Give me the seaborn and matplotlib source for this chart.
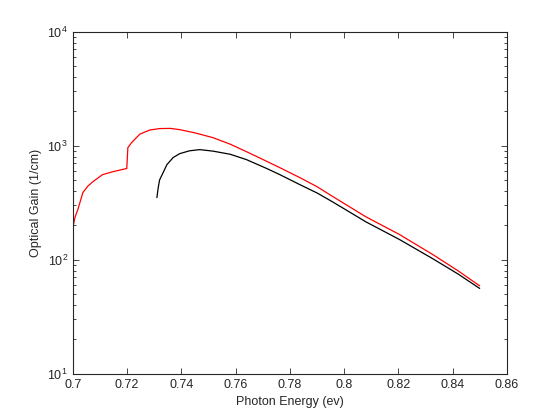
import numpy as np
import pandas as pd
import matplotlib
matplotlib.use("Agg")
import matplotlib.pyplot as plt
import seaborn as sns
from matplotlib.ticker import LogLocator, NullFormatter

# red curve (photon energy in eV, gain in 1/cm)
red_energy = [0.7000, 0.7008, 0.7019, 0.7037, 0.7055, 0.7074, 0.7110, 0.7147, 0.7199,
              0.7203, 0.7217, 0.7247, 0.7284, 0.7320, 0.7360, 0.7394, 0.7452, 0.7516,
              0.7580, 0.7640, 0.7715, 0.7763, 0.7837, 0.7900, 0.7959, 0.8080, 0.8205,
              0.8327, 0.8420, 0.8500]
red_gain = [190, 235, 277, 387, 440, 483, 557, 590, 630,
            960, 1063, 1260, 1370, 1410, 1415, 1380, 1290, 1175,
            1030, 885, 728, 641, 524, 437, 357, 238, 166,
            111, 80, 59]

# black curve
black_energy = [0.7310, 0.7315, 0.7320, 0.7347, 0.7370, 0.7394, 0.7430, 0.7468, 0.7516,
                0.7580, 0.7640, 0.7715, 0.7763, 0.7837, 0.7900, 0.7959, 0.8080, 0.8205,
                0.8327, 0.8420, 0.8500]
black_gain = [350, 430, 500, 681, 786, 850, 900, 922, 895,
              840, 754, 630, 557, 455, 385, 320, 215, 150,
              102, 75, 56]

sns.set_style("ticks")
plt.rcParams["font.family"] = ["Liberation Sans", "DejaVu Sans"]

fig = plt.figure(figsize=(5.6, 4.2), dpi=100)
ax = fig.add_axes([0.13, 0.11, 0.775, 0.815])

red = pd.DataFrame({"energy": red_energy, "gain": red_gain})
black = pd.DataFrame({"energy": black_energy, "gain": black_gain})

sns.lineplot(data=red, x="energy", y="gain", color="red", lw=0.9, estimator=None, ax=ax)
sns.lineplot(data=black, x="energy", y="gain", color="black", lw=0.9, estimator=None, ax=ax)

ax.set_yscale("log")
ax.set_xlim(0.7, 0.86)
ax.set_ylim(10, 1e4)
ax.set_xticks(np.arange(0.70, 0.861, 0.02))
ax.set_xticklabels(["0.7", "0.72", "0.74", "0.76", "0.78", "0.8", "0.82", "0.84", "0.86"])
ax.yaxis.set_major_locator(LogLocator(base=10, numticks=10))
ax.yaxis.set_minor_locator(LogLocator(base=10, subs=np.arange(2, 10), numticks=10))
ax.yaxis.set_minor_formatter(NullFormatter())

ax.tick_params(which="both", direction="in", top=True, right=True, labelsize=9, width=0.6)
ax.tick_params(which="major", length=4)
ax.tick_params(which="minor", length=2)
for s in ax.spines.values():
    s.set_linewidth(0.8)
    s.set_visible(True)

ax.set_xlabel("Photon Energy (ev)", fontsize=9)
ax.set_ylabel("Optical Gain (1/cm)", fontsize=9)

fig.savefig("out.png", dpi=100)
